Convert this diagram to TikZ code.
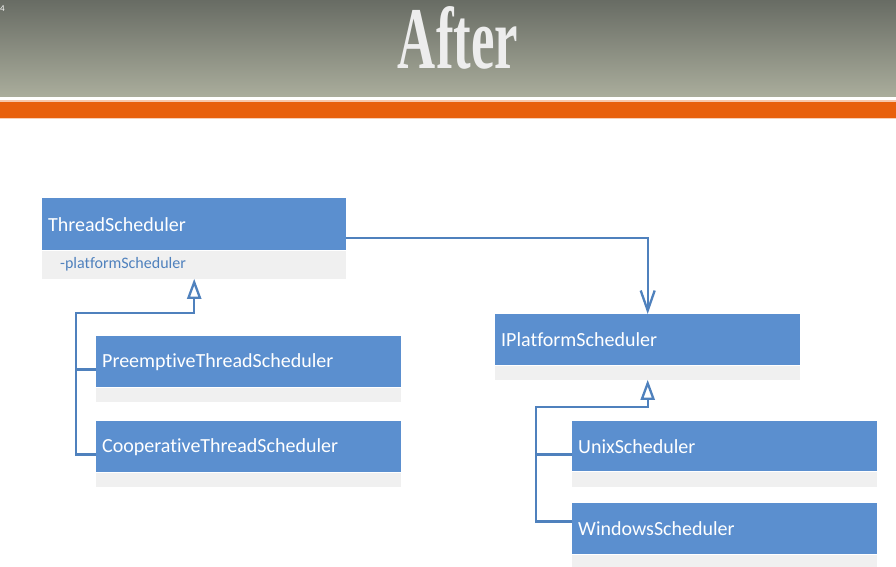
\documentclass[tikz,border=0pt]{standalone}
\usepackage{fontspec}
\setmainfont{Carlito}[Ligatures=NoCommon]
\newfontfamily\titlefont{Liberation Serif}
\usetikzlibrary{arrows.meta,calc,shadings}
\definecolor{hdrtop}{RGB}{104,108,100}
\definecolor{hdrbot}{RGB}{170,173,156}
\definecolor{orangebar}{RGB}{232,96,12}
\definecolor{umlblue}{RGB}{91,143,207}
\definecolor{umlgray}{RGB}{240,240,240}
\definecolor{umlline}{RGB}{79,129,189}
\tikzset{
  classhead/.style={rectangle, fill=umlblue, text=white, anchor=north west,
    inner xsep=6pt, inner ysep=0pt, align=left,
    font=\fontsize{20}{22}\selectfont},
  classcomp/.style={rectangle, fill=umlgray, text=umlline, anchor=north west,
    inner xsep=18pt, inner ysep=0pt, align=left,
    font=\fontsize{16}{18}\selectfont},
  conn/.style={draw=umlline, line width=2.3pt},
  genarrow/.style={conn, -{Triangle[open, width=14pt, length=20pt, fill=white]}},
  assocarrow/.style={conn, -{Straight Barb[width=14pt, length=20pt]}}
}
\begin{document}
\begin{tikzpicture}[x=1pt,y=-1pt]
\useasboundingbox (0,0) rectangle (896,567);
\fill[white] (0,0) rectangle (896,567);
% header
\shade[top color=hdrtop, bottom color=hdrbot] (0,0) rectangle (896,97);
\fill[white] (0,97) rectangle (896,101);
\fill[orangebar!35] (0,100) rectangle (896,102);
\fill[orangebar] (0,102) rectangle (896,118);
\fill[orangebar!30] (0,118) rectangle (896,119);
\node[text=white, font=\fontsize{9}{9}\selectfont, anchor=west, inner sep=0pt] (pgnum) at (0,9) {4};
\node[text=white!93!black, xscale=0.6, font=\titlefont\bfseries\fontsize{88}{88}\selectfont] (title) at (458,38) {After};
% classes
\node[classhead, text width=292pt, minimum height=52pt] (ts) at (42,198) {ThreadScheduler};
\node[classcomp, text width=268pt, minimum height=28pt] (tsc) at (ts.south west) {-platformScheduler};

\node[classhead, text width=293pt, minimum height=51pt] (pts) at (96,336) {PreemptiveThreadScheduler};
\node[classcomp, text width=269pt, minimum height=14pt] (ptsc) at (pts.south west) {};

\node[classhead, text width=293pt, minimum height=51pt] (cts) at (96,421) {CooperativeThreadScheduler};
\node[classcomp, text width=269pt, minimum height=14pt] (ctsc) at (cts.south west) {};

\node[classhead, text width=293pt, minimum height=51pt] (ips) at (495,314) {IPlatformScheduler};
\node[classcomp, text width=269pt, minimum height=14pt] (ipsc) at (ips.south west) {};

\node[classhead, text width=293pt, minimum height=50pt] (us) at (572,421) {UnixScheduler};
\node[classcomp, text width=269pt, minimum height=15pt] (usc) at (us.south west) {};

\node[classhead, text width=293pt, minimum height=51pt] (ws) at (572,503) {WindowsScheduler};
\node[classcomp, text width=269pt, minimum height=14pt] (wsc) at (ws.south west) {};

% association
\draw[assocarrow] ([yshift=-14pt]ts.east) -| (ips.north);

% generalization left
\coordinate (lj) at (76,313);
\draw[genarrow] ([yshift=18pt]cts.south west) -| (lj) -| (tsc.south);
\draw[conn] ([yshift=18pt]pts.south west) -- ++(-20,0);

% generalization right
\coordinate (rj) at (536,407);
\draw[genarrow] ([yshift=33pt]ws.south west) -| (rj) -| (ipsc.south);
\draw[conn] ([yshift=17pt]us.south west) -- ++(-36,0);
\end{tikzpicture}
\end{document}
